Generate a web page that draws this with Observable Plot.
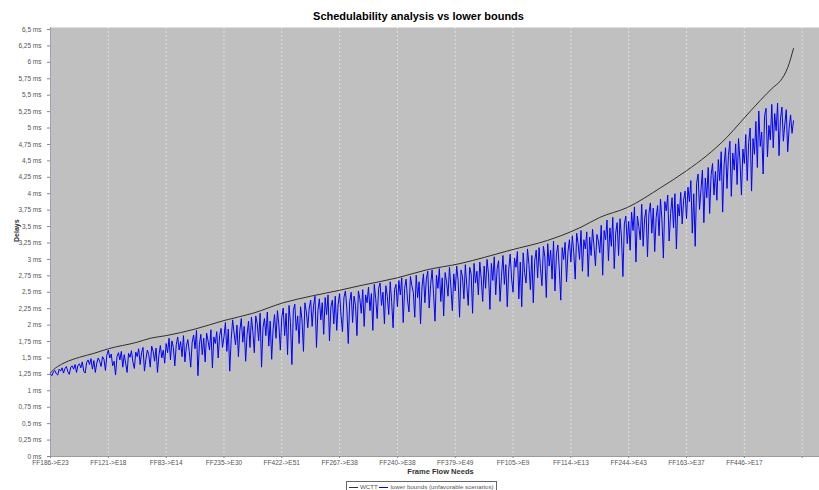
<!DOCTYPE html>
<html>
<head>
<meta charset="utf-8">
<script src="https://cdn.jsdelivr.net/npm/d3@7"></script>
<script src="https://cdn.jsdelivr.net/npm/@observablehq/plot@0.6"></script>
<style>
  html, body { margin: 0; padding: 0; background: #fff; overflow: hidden; }
  body { font-family: "Liberation Sans", Arial, sans-serif; width: 819px; height: 490px; position: relative; }
  #title { width: 801px; height: 17px; padding-top: 10px; padding-left: 18px; box-sizing: content-box;
           font-weight: bold; font-size: 11px; line-height: 13px; text-align: center; color: #000; }
  #legend { position: absolute; top: 481px; left: 346px; height: 12px; box-sizing: border-box; border: 1px solid #666;
            font-size: 6.2px; line-height: 9px; color: #555; padding: 0 2px; white-space: nowrap; }
  .sw { display: inline-block; width: 9px; height: 0; vertical-align: middle; margin-right: 2px; }
</style>
</head>
<body>
<div id="title">Schedulability analysis vs lower bounds</div>
<div id="chart"></div>
<div id="legend"><span class="sw" style="border-top:1px solid #333"></span>WCTT <span class="sw" style="border-top:1px solid #0000ff"></span>lower bounds (unfavorable scenarios)</div>
<script>
// Category tick labels (one every 40 frame flow needs)
const xLabels = ["FF186->E23","FF121->E18","FF83->E14","FF235->E30","FF422->E51","FF267->E38",
  "FF240->E38","FF379->E49","FF105->E9","FF114->E13","FF244->E43","FF163->E37","FF446->E17"];

// WCTT (black) sampled at category indices
const wcttIndex = [0,2,5,10,20,30,40,60,69,80,100,120,140,161,180,200,214,240,260,284,300,318,344,353,367,380,399,422,440,454,468,477,491,500,505,510,514];
const wcttValues = [1.27,1.32,1.37,1.43,1.51,1.57,1.64,1.74,1.80,1.84,1.94,2.07,2.18,2.34,2.44,2.53,2.60,2.72,2.84,2.94,3.03,3.14,3.29,3.36,3.49,3.64,3.79,4.09,4.35,4.58,4.86,5.08,5.42,5.62,5.72,5.92,6.21];

// Lower bounds (blue), one value per category index 0..514
const lowerBounds = [
1.25,1.23,1.29,1.31,1.26,1.24,1.33,1.30,1.35,1.27,1.34,1.37,1.29,1.25,1.36,1.38,1.33,1.40,1.28,1.39,
1.41,1.35,1.44,1.30,1.27,1.43,1.47,1.40,1.49,1.33,1.46,1.28,1.42,1.50,1.45,1.37,1.52,1.48,1.31,1.54,
1.62,1.50,1.56,1.38,1.45,1.24,1.52,1.58,1.47,1.60,1.36,1.55,1.42,1.28,1.57,1.51,1.61,1.44,1.34,1.59,
1.52,1.64,1.40,1.58,1.66,1.30,1.48,1.62,1.55,1.36,1.68,1.60,1.45,1.65,1.28,1.54,1.69,1.50,1.62,1.42,
1.72,1.58,1.80,1.47,1.76,1.66,1.38,1.70,1.82,1.62,1.75,1.52,1.84,1.44,1.68,1.78,1.60,1.36,1.74,1.85,
1.64,1.92,1.23,1.70,1.86,1.55,1.80,1.44,1.88,1.76,1.62,1.93,1.35,1.82,1.72,1.90,1.50,1.84,1.95,1.66,
1.82,2.04,1.60,1.94,1.30,1.78,2.08,1.88,1.70,2.00,1.52,1.92,2.10,1.74,1.98,1.45,1.86,2.06,1.66,2.12,
1.90,1.58,2.14,2.02,1.76,2.18,1.36,1.96,2.10,1.84,2.20,1.68,2.06,1.48,1.94,2.16,1.80,2.22,2.00,1.62,
2.12,2.26,1.84,2.18,1.55,2.30,2.04,1.40,2.22,2.32,1.92,2.14,1.72,2.28,2.08,1.60,2.34,2.20,1.96,2.26,
2.38,1.98,2.30,2.44,1.66,2.22,2.40,2.08,2.34,1.86,2.42,2.16,2.46,1.76,2.28,2.38,2.02,2.44,1.92,2.32,
2.48,2.14,1.90,2.42,2.52,2.26,1.72,2.36,2.50,2.04,2.44,2.30,1.84,2.52,2.40,2.18,2.54,1.98,2.46,2.34,
2.58,2.22,2.48,1.92,2.62,2.40,2.10,2.56,2.64,2.30,2.50,2.02,2.60,2.44,2.16,2.66,2.36,1.96,2.54,2.62,
2.28,2.68,2.46,2.72,2.04,2.56,2.70,2.38,2.20,2.74,2.60,2.50,2.12,2.76,2.42,2.66,2.02,2.58,2.78,2.34,
2.70,2.82,2.26,2.62,2.84,2.48,2.06,2.76,2.56,2.86,2.36,2.72,2.14,2.80,2.66,2.44,2.88,2.58,2.22,2.78,
2.52,2.90,2.68,2.12,2.84,2.74,2.40,2.92,2.60,2.30,2.88,2.78,2.18,2.94,2.64,2.82,2.46,2.96,2.70,2.36,
2.90,2.56,3.00,2.78,2.24,2.94,2.68,3.04,2.46,2.86,2.98,2.36,2.74,3.06,2.62,2.92,2.28,2.84,3.08,2.70,
2.50,3.02,2.88,3.12,2.40,2.96,2.28,3.10,2.80,2.64,3.16,2.92,2.54,3.06,2.34,2.98,3.14,2.72,3.18,2.86,
2.60,3.20,3.04,2.42,3.24,2.90,3.14,2.70,3.28,2.52,3.08,3.22,2.84,2.38,3.18,3.00,3.26,2.66,3.12,3.30,
2.96,3.36,3.10,2.70,3.40,3.24,3.00,3.44,2.82,3.30,3.16,3.42,2.74,3.34,3.06,3.46,3.20,2.90,3.38,3.28,
3.10,3.52,2.76,3.44,3.30,3.60,2.98,3.48,3.20,3.64,2.86,3.40,3.56,3.06,3.62,3.34,2.74,3.54,3.66,3.24,
3.58,3.14,3.72,3.44,3.80,2.96,3.66,3.50,3.30,3.84,3.20,3.62,3.76,3.04,3.70,3.86,3.40,3.78,3.12,3.64,
3.82,3.36,3.92,3.60,3.02,3.88,3.74,3.98,3.28,3.70,3.94,3.48,4.00,3.16,3.84,3.66,4.02,3.54,3.90,4.04,
3.62,4.10,3.88,4.20,3.40,4.00,3.20,4.16,4.30,3.76,4.06,4.36,3.56,4.24,3.94,4.40,3.70,4.28,4.46,3.98,
4.34,3.90,4.52,4.20,4.64,3.72,4.44,4.70,4.08,4.58,4.80,3.96,4.62,4.36,4.76,4.14,4.84,4.50,3.98,4.68,
4.46,4.90,4.20,4.78,5.00,4.04,4.84,4.60,5.10,4.40,5.26,4.72,4.94,4.30,5.18,5.30,4.56,5.04,4.82,5.36,
4.70,5.22,4.96,5.38,4.58,5.14,5.32,4.80,5.06,5.28,4.64,5.00,5.20,4.92,5.11
];

const wctt = wcttIndex.map((i, k) => ({i, v: wcttValues[k]}));
const lb = lowerBounds.map((v, i) => ({i, v}));
const xTicks = d3.range(0, 521, 40);
const yTicks = d3.range(0, 6.5001, 0.25);
const fmtY = d => String(d).replace(".", ",") + " ms";

const chart = Plot.plot({
  width: 819,
  height: 454,
  marginTop: 0,
  marginBottom: 25,
  marginLeft: 50,
  marginRight: 0,
  style: {fontFamily: "'Liberation Sans', Arial, sans-serif", fontSize: "6.5px", background: "#fff"},
  x: {domain: [0, 532]},
  y: {domain: [0, 6.5], insetTop: 2},
  marks: [
    Plot.frame({fill: "#c0c0c0", stroke: null}),
    Plot.gridX(xTicks.slice(1), {stroke: "#ffffff", strokeOpacity: 0.5, strokeDasharray: "2,2"}),
    Plot.ruleY([0], {stroke: "#9c9c9c"}),
    Plot.ruleX([0], {stroke: "#a0a0b0"}),
    Plot.axisY({ticks: yTicks, tickFormat: fmtY, tickSize: 3, fontSize: 6.5, color: "#555", stroke: "#888", label: null}),
    Plot.axisX({ticks: xTicks, tickFormat: d => xLabels[d / 40] ?? "", tickSize: 2, tickPadding: 2, fontSize: 6.5, color: "#555", stroke: "#888", label: null}),
    Plot.line(lb, {x: "i", y: "v", stroke: "#0000ff", strokeWidth: 1}),
    Plot.line(wctt, {x: "i", y: "v", stroke: "#2e2e2e", strokeWidth: 1, curve: "monotone-x"}),
    Plot.text(["Delays"], {frameAnchor: "left", dx: -34, rotate: -90, fontWeight: "bold", fontSize: 7, fill: "#333"}),
    Plot.text(["Frame Flow Needs"], {frameAnchor: "bottom", dx: 5.5, dy: 17, fontWeight: "bold", fontSize: 7.5, fill: "#333"})
  ]
});
document.getElementById("chart").appendChild(chart);
</script>
</body>
</html>
